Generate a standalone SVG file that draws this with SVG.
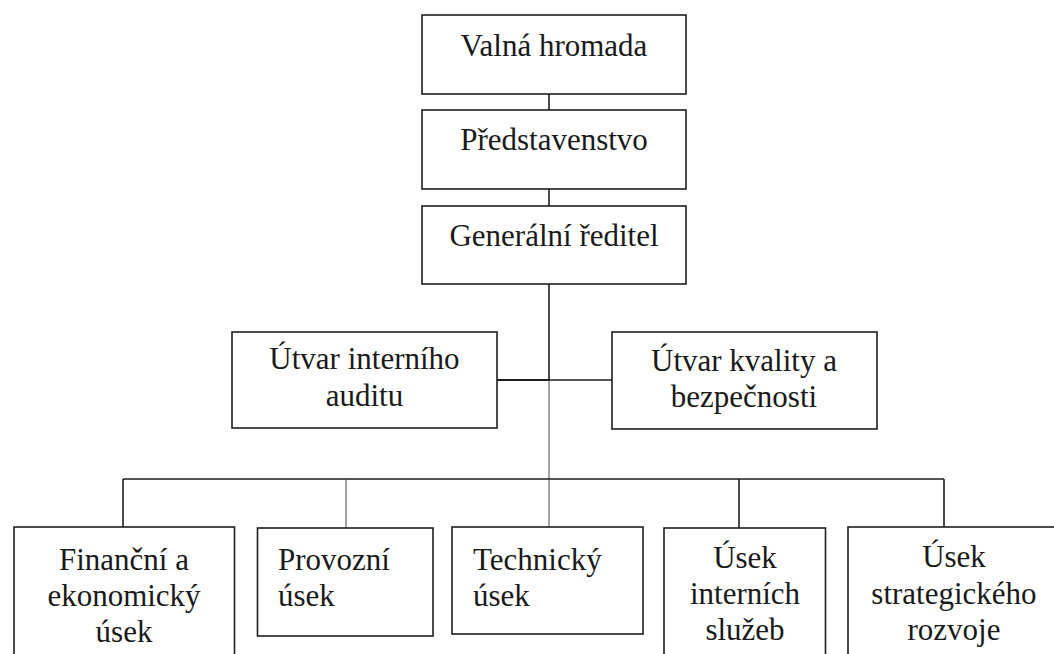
<svg xmlns="http://www.w3.org/2000/svg" width="1054" height="654" viewBox="0 0 1054 654">
<style>
.box{fill:#fff;stroke:#1e1e1e;stroke-width:1.6}
.t{font-family:"Liberation Serif","Times New Roman",serif;font-size:31px;fill:#1a1a1a}
.c{text-anchor:middle}
.ln{stroke:#1e1e1e;stroke-width:1.6;fill:none}
.thin{stroke:#444;stroke-width:1;fill:none}
</style>
<rect width="1054" height="654" fill="#fff"/>
<g id="connectors">
<line class="ln" x1="549" y1="94" x2="549" y2="110"/>
<line class="ln" x1="549" y1="189" x2="549" y2="206"/>
<line class="ln" x1="549" y1="284" x2="549" y2="380"/>
<line class="thin" x1="549" y1="380" x2="549" y2="527"/>
<line class="ln" x1="497" y1="380" x2="549" y2="380" style="stroke-width:2.2"/>
<line class="ln" x1="549" y1="380" x2="612" y2="380"/>
<line class="ln" x1="123" y1="479" x2="944" y2="479"/>
<line class="ln" x1="123" y1="479" x2="123" y2="527"/>
<line class="thin" x1="346" y1="479" x2="346" y2="528"/>
<line class="ln" x1="739" y1="479" x2="739" y2="528"/>
<line class="ln" x1="944" y1="479" x2="944" y2="527"/>
</g>
<g id="valna">
<rect class="box" x="422" y="15" width="264" height="79"/>
<text class="t c" x="554" y="56">Valná hromada</text>
</g>
<g id="predstavenstvo">
<rect class="box" x="422" y="110" width="264" height="79"/>
<text class="t c" x="554" y="150">Představenstvo</text>
</g>
<g id="reditel">
<rect class="box" x="422" y="206" width="264" height="78"/>
<text class="t c" x="554" y="246">Generální ředitel</text>
</g>
<g id="audit">
<rect class="box" x="232" y="332" width="265" height="96"/>
<text class="t c" x="364.5" y="369">Útvar interního</text>
<text class="t c" x="364.5" y="406">auditu</text>
</g>
<g id="kvalita">
<rect class="box" x="612" y="332" width="265" height="97"/>
<text class="t c" x="744" y="371">Útvar kvality a</text>
<text class="t c" x="744" y="407">bezpečnosti</text>
</g>
<g id="financni">
<rect class="box" x="14" y="527" width="220.5" height="140"/>
<text class="t c" x="124" y="570">Finanční a</text>
<text class="t c" x="124" y="606">ekonomický</text>
<text class="t c" x="124" y="642">úsek</text>
</g>
<g id="provozni">
<rect class="box" x="257.5" y="528" width="175.5" height="108"/>
<text class="t" x="278" y="570">Provozní</text>
<text class="t" x="278" y="606">úsek</text>
</g>
<g id="technicky">
<rect class="box" x="452" y="527" width="191" height="107"/>
<text class="t" x="473" y="570">Technický</text>
<text class="t" x="473" y="606">úsek</text>
</g>
<g id="interni">
<rect class="box" x="664" y="528" width="161.5" height="140"/>
<text class="t c" x="745" y="568">Úsek</text>
<text class="t c" x="745" y="604">interních</text>
<text class="t c" x="745" y="640">služeb</text>
</g>
<g id="strategie">
<rect class="box" x="848" y="527" width="212" height="140"/>
<text class="t c" x="954" y="567">Úsek</text>
<text class="t c" x="954" y="604">strategického</text>
<text class="t c" x="954" y="640">rozvoje</text>
</g>
</svg>
